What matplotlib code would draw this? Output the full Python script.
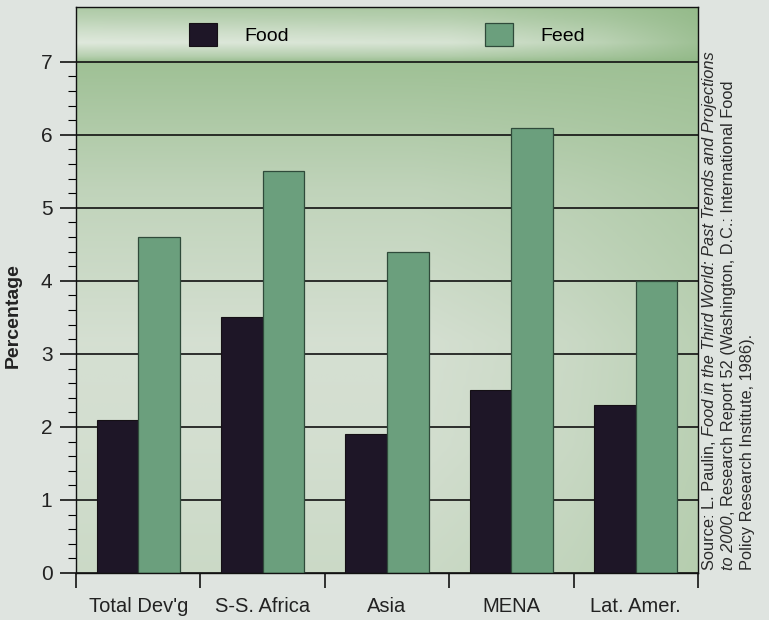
import numpy as np
import matplotlib.pyplot as plt
from matplotlib.colors import LinearSegmentedColormap

# Growth rates of cereal demand, by region
regions = ["Total Dev'g", "S-S. Africa", "Asia", "MENA", "Lat. Amer."]
food = [2.1, 3.5, 1.9, 2.5, 2.3]
feed = [4.6, 5.5, 4.4, 6.1, 4.0]
series_names = ["Food", "Feed"]

source_lines = [
    [("Source: L. Paulin, ", "normal"),
     ("Food in the Third World: Past Trends and Projections", "italic")],
    [("to 2000", "italic"),
     (", Research Report 52 (Washington, D.C.: International Food", "normal")],
    [("Policy Research Institute, 1986).", "normal")],
]

plt.rcParams['font.family'] = ['Liberation Sans', 'DejaVu Sans']

food_color = '#1e1627'
feed_color = '#6b9f7d'
page_color = '#dfe4e0'
text_color = '#222222'

fig = plt.figure(figsize=(7.69, 6.20), dpi=100, facecolor=page_color)
ax = fig.add_axes([76 / 769, 47 / 620, 622 / 769, 566 / 620])

x = np.arange(len(regions))
w = 0.335
top = 7.75

ax.set_xlim(-0.5, len(regions) - 0.5)
ax.set_ylim(0, top)

# shaded plot background: green at the top, paler lower down, greener to the right
yy = np.linspace(0, 1, 200)[:, None]
xx = np.linspace(0, 1, 200)[None, :]
vert = np.interp(yy, [0, 0.25, 0.45, 0.75, 1.0], [0.78, 0.92, 0.95, 0.6, 0.05])
horiz = np.interp(xx, [0, 0.55, 0.8, 1.0], [1.0, 1.0, 0.8, 0.55])
shade = np.clip(vert * horiz, 0, 1)
bg_cmap = LinearSegmentedColormap.from_list('bg', ['#9cbf92', '#d8e1d5'])
ax.imshow(shade, cmap=bg_cmap, vmin=0, vmax=1, origin='lower', aspect='auto',
          extent=(-0.5, len(regions) - 0.5, 0, 7), zorder=0, interpolation='bicubic')

# legend band above the top gridline
by = np.linspace(0, 1, 60)[:, None]
bx = np.linspace(0, 1, 200)[None, :]
band_v = np.interp(by, [0, 0.1, 0.35, 0.55, 0.8, 1.0], [0.15, 0.45, 0.92, 0.75, 0.5, 0.35])
band_h = np.interp(bx, [0, 0.6, 0.85, 1.0], [1.0, 0.9, 0.55, 0.2])
band = np.clip(band_v * band_h, 0, 1)
band_cmap = LinearSegmentedColormap.from_list('band', ['#8fb784', '#e6ede4'])
ax.imshow(band, cmap=band_cmap, vmin=0, vmax=1, origin='lower', aspect='auto',
          extent=(-0.5, len(regions) - 0.5, 7, top), zorder=0, interpolation='bicubic')

for yv in range(0, 8):
    ax.axhline(yv, color='#111111', lw=1.2, zorder=1)

ax.bar(x - w / 2, food, w, color=food_color, edgecolor='#151015', lw=0.8,
       label=series_names[0], zorder=2)
ax.bar(x + w / 2, feed, w, color=feed_color, edgecolor='#2f4a3a', lw=0.9,
       label=series_names[1], zorder=2)

# axes and ticks
for s in ax.spines.values():
    s.set_color('#111111')
    s.set_linewidth(1.0)

ax.set_yticks(range(0, 8))
ax.set_yticks(np.arange(0, 7.01, 0.2), minor=True)
ax.tick_params(axis='y', which='major', length=11.5, width=1.1, pad=5.5,
               labelsize=15, labelcolor=text_color)
ax.tick_params(axis='y', which='minor', length=5.5, width=0.8)

ax.set_xticks(np.arange(-0.5, len(regions), 1.0))
ax.set_xticklabels([])
ax.set_xticks(x, minor=True)
ax.set_xticklabels(regions, minor=True)
ax.tick_params(axis='x', which='major', length=11, width=1.1)
ax.tick_params(axis='x', which='minor', length=0, pad=17, labelsize=14.5,
               labelcolor=text_color)

ax.set_ylabel('Percentage', fontsize=14, fontweight='bold', color=text_color)
ax.yaxis.set_label_coords(-0.087, 0.455)

ax.legend(ncol=2, loc='center', bbox_to_anchor=(0.5, 0.951), frameon=False,
          fontsize=14, handlelength=1.43, handleheight=1.43,
          handletextpad=1.39, columnspacing=10.1)

# rotated source note, pieced together to mix italic and roman
renderer = fig.canvas.get_renderer()
font_size = 11.8
line_x = [714, 733, 752]
y_start = 570
for lx, pieces in zip(line_x, source_lines):
    ypos = y_start
    for txt, style in pieces:
        t = fig.text(lx / 769, 1 - ypos / 620, txt, rotation=90,
                     rotation_mode='anchor', ha='left', va='baseline',
                     fontsize=font_size, style=style, color='#2a2a2a')
        ypos -= t.get_window_extent(renderer).height

fig.savefig('out.png', dpi=100, facecolor=page_color)
